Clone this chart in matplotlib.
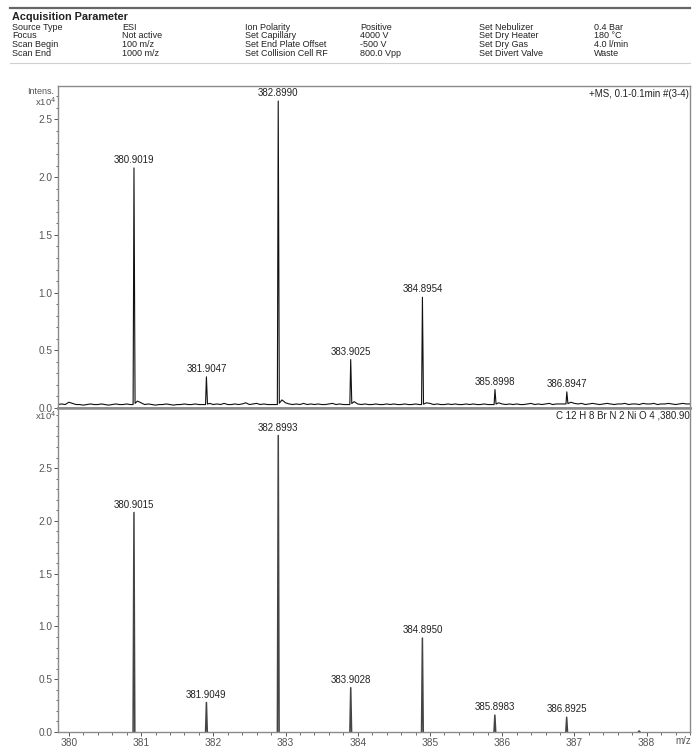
import numpy as np
import matplotlib
matplotlib.use('Agg')
import matplotlib.pyplot as plt
from matplotlib.ticker import MultipleLocator

plt.rcParams['font.family'] = ['Liberation Sans', 'DejaVu Sans']

# acquisition parameter table (4 rows x 3 column pairs)
PARAM_NAMES_1 = ['Source Type', 'Focus', 'Scan Begin', 'Scan End']
PARAM_VALUES_1 = ['ESI', 'Not active', '100 m/z', '1000 m/z']
PARAM_NAMES_2 = ['Ion Polarity', 'Set Capillary', 'Set End Plate Offset', 'Set Collision Cell RF']
PARAM_VALUES_2 = ['Positive', '4000 V', '-500 V', '800.0 Vpp']
PARAM_NAMES_3 = ['Set Nebulizer', 'Set Dry Heater', 'Set Dry Gas', 'Set Divert Valve']
PARAM_VALUES_3 = ['0.4 Bar', '180 °C', '4.0 l/min', 'Waste']

# measured spectrum, intensities in 1e4
exp_mz = [380.9019, 381.9047, 382.8990, 383.9025, 384.8954, 385.8998, 386.8947]
exp_int = [2.08, 0.27, 2.66, 0.42, 0.96, 0.16, 0.14]

# baseline noise of the measured trace, every 0.05 m/z from 379.85 to 388.60
noise = [
    0.03, 0.035, 0.03, 0.05, 0.04, 0.03, 0.03, 0.025, 0.03, 0.035, 0.03, 0.03, 0.035, 0.03, 0.025, 0.03, 0.035, 0.03, 0.03, 0.035,
    0.03, 0.03, 0.06, 0.045, 0.03, 0.035, 0.03, 0.025, 0.03, 0.03, 0.035, 0.03, 0.025, 0.03, 0.03, 0.035, 0.03, 0.03, 0.035, 0.03,
    0.03, 0.03, 0.04, 0.03, 0.035, 0.03, 0.04, 0.03, 0.03, 0.035, 0.03, 0.035, 0.045, 0.03, 0.035, 0.04, 0.03, 0.035, 0.03, 0.03,
    0.03, 0.03, 0.07, 0.045, 0.035, 0.03, 0.035, 0.03, 0.04, 0.03, 0.035, 0.03, 0.035, 0.03, 0.03, 0.035, 0.04, 0.03, 0.035, 0.03,
    0.03, 0.03, 0.055, 0.035, 0.03, 0.035, 0.03, 0.03, 0.035, 0.03, 0.03, 0.035, 0.03, 0.035, 0.03, 0.03, 0.035, 0.03, 0.03, 0.035,
    0.03, 0.03, 0.045, 0.04, 0.03, 0.035, 0.03, 0.03, 0.035, 0.03, 0.035, 0.03, 0.03, 0.035, 0.03, 0.035, 0.03, 0.03, 0.035, 0.03,
    0.03, 0.03, 0.045, 0.035, 0.03, 0.035, 0.03, 0.035, 0.03, 0.03, 0.035, 0.04, 0.03, 0.035, 0.03, 0.035, 0.04, 0.03, 0.035, 0.035,
    0.035, 0.035, 0.05, 0.04, 0.035, 0.04, 0.03, 0.035, 0.04, 0.035, 0.03, 0.035, 0.04, 0.035, 0.03, 0.035, 0.035, 0.04, 0.03, 0.035,
    0.035, 0.03, 0.04, 0.035, 0.035, 0.04, 0.03, 0.035, 0.035, 0.04, 0.035, 0.03, 0.035, 0.04, 0.035, 0.035,
]
NOISE_START, NOISE_END = 379.85, 388.60

# simulated isotope pattern
sim_mz = [380.9015, 381.9049, 382.8993, 383.9028, 384.8950, 385.8983, 386.8925, 387.8960]
sim_int = [2.08, 0.28, 2.81, 0.42, 0.89, 0.16, 0.14, 0.01]
sim_labeled = [True, True, True, True, True, True, True, False]

X_TICKS = [380, 381, 382, 383, 384, 385, 386, 387, 388]
Y_TICKS = [0.0, 0.5, 1.0, 1.5, 2.0, 2.5]

TXT = '#222222'
GRAY = '#555555'

W, H = 693, 747
fig = plt.figure(figsize=(W / 100, H / 100), dpi=100)


def fx(px):
    return px / W


def fy(py):
    return 1 - py / H


# ---- header
fig.add_artist(plt.Line2D([fx(10), fx(690)], [fy(8), fy(8)], color='#666666', lw=1.6))
fig.add_artist(plt.Line2D([fx(10), fx(690)], [fy(63), fy(63)], color='#d0d0d0', lw=0.8))
fig.text(fx(12), fy(17), 'Acquisition Parameter', fontsize=7.8, fontweight='bold',
         color=TXT, va='center')
cols = [(PARAM_NAMES_1, 12), (PARAM_VALUES_1, 122), (PARAM_NAMES_2, 245),
        (PARAM_VALUES_2, 360), (PARAM_NAMES_3, 479), (PARAM_VALUES_3, 594)]
for texts, x0 in cols:
    for i, t in enumerate(texts):
        fig.text(fx(x0), fy(27 + 8.9 * i), t, fontsize=6.5, color=TXT, va='center')

# ---- axes
left, right = 58, 690
ax1 = fig.add_axes([fx(left), fy(408), fx(right - left), (408 - 86) / H])
ax2 = fig.add_axes([fx(left), fy(732), fx(right - left), (732 - 408) / H])

# measured trace: noise baseline with the peaks dropped in
nx = np.linspace(NOISE_START, NOISE_END, len(noise))
ny = np.array(noise)
keep = np.ones(len(nx), bool)
for mz in exp_mz:
    keep &= ~((nx > mz - 0.015) & (nx < mz + 0.02))
px = list(nx[keep])
py = list(ny[keep])
for mz, h in zip(exp_mz, exp_int):
    for dx in (-0.012, 0.015):
        px.append(mz + dx)
        py.append(np.interp(mz + dx, nx, ny))
    px.append(mz)
    py.append(h)
order = np.argsort(px)
ax1.plot(np.array(px)[order], np.array(py)[order], color='#111111', lw=0.8)

for mz, h in zip(exp_mz, exp_int):
    ax1.annotate(f'{mz:.4f}', (mz, h), xytext=(0, 2), textcoords='offset points',
                 ha='center', va='bottom', fontsize=7, color=TXT)

# simulated pattern
for mz, h, lab in zip(sim_mz, sim_int, sim_labeled):
    ax2.plot([mz - 0.012, mz, mz + 0.012], [0, h, 0], color='#444444', lw=1.1)
    if lab:
        ax2.annotate(f'{mz:.4f}', (mz, h), xytext=(0, 2), textcoords='offset points',
                     ha='center', va='bottom', fontsize=7, color=TXT)

for ax, ytop in ((ax1, 2.79), (ax2, 3.07)):
    ax.set_xlim(379.85, 388.6)
    ax.set_ylim(0, ytop)
    ax.set_yticks(Y_TICKS)
    ax.set_yticklabels([f'{v:.1f}' for v in Y_TICKS])
    ax.yaxis.set_minor_locator(MultipleLocator(0.1))
    for s in ax.spines.values():
        s.set_color('#8a8a8a')
        s.set_linewidth(1.0)
    ax.tick_params(axis='both', which='major', direction='out', length=3, width=0.7,
                   labelsize=7.3, colors=GRAY, pad=1)
    ax.tick_params(axis='both', which='minor', direction='out', length=1.8, width=0.6,
                   colors=GRAY)

ax1.spines['bottom'].set_linewidth(1.8)
ax2.spines['top'].set_linewidth(1.8)
ax1.tick_params(axis='x', which='both', bottom=False, labelbottom=False)
ax2.set_xticks(X_TICKS)
ax2.xaxis.set_minor_locator(MultipleLocator(0.2))

ax1.text(0.998, 0.975, '+MS, 0.1-0.1min #(3-4)', transform=ax1.transAxes,
         ha='right', va='center', fontsize=7, color=TXT)
ax2.text(0.999, 0.977, 'C 12 H 8 Br N 2 Ni O 4 ,380.90', transform=ax2.transAxes,
         ha='right', va='center', fontsize=7, color=TXT)

fig.text(fx(54), fy(92), 'Intens.', fontsize=6.5, color=GRAY, ha='right', va='center')
fig.text(fx(56), fy(102), r'x10$^4$', fontsize=6.8, color=GRAY, ha='right', va='center')
fig.text(fx(56), fy(416), r'x10$^4$', fontsize=6.8, color=GRAY, ha='right', va='center')
fig.text(fx(683), fy(741), 'm/z', fontsize=7, color=GRAY, ha='center', va='center')

fig.savefig('out.png', dpi=100)
